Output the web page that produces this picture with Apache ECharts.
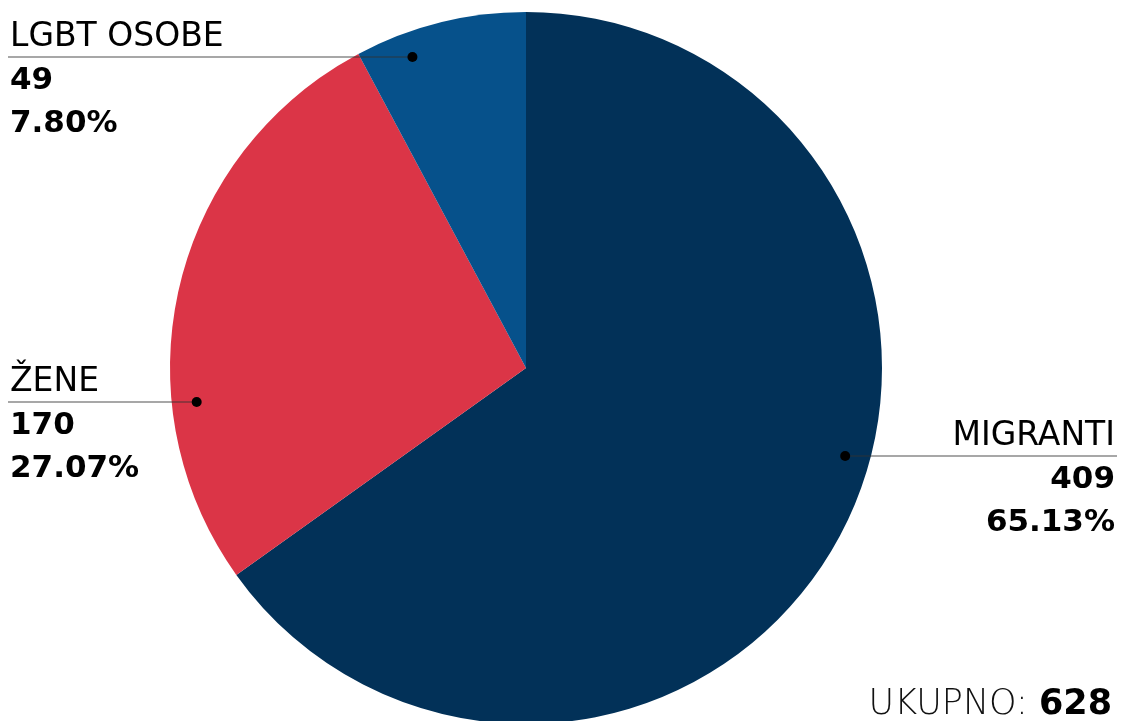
<!DOCTYPE html>
<html>
<head>
<meta charset="utf-8">
<script src="https://cdn.jsdelivr.net/npm/echarts@6/dist/echarts.min.js"></script>
<style>
html,body{margin:0;padding:0;background:#fff;}
#c{width:1121px;height:721px;}
</style>
</head>
<body>
<div id="c"></div>
<script>
const categories = ['MIGRANTI', 'ŽENE', 'LGBT OSOBE'];
const values = [409, 170, 49];
const colors = ['#023158', '#DB3547', '#06518B'];
const totalLabel = 'UKUPNO:';

const total = values.reduce((a, b) => a + b, 0);
const CX = 526, CY = 368, R = 356;
// label line heights and sides (layout only)
const lineY = [456, 402, 57];
const side = ['right', 'left', 'left'];
const DOT_R = 0.93 * R;

function dotPos(i) {
  const dy = lineY[i] - CY;
  const dx = Math.sqrt(Math.max(DOT_R * DOT_R - dy * dy, 0));
  const x = side[i] === 'right' ? CX + dx : CX - dx;
  return [x, lineY[i]];
}

const FONT = '"DejaVu Sans", sans-serif';
const chart = echarts.init(document.getElementById('c'), null, {renderer: 'canvas'});

const leaders = [];
categories.forEach((c, i) => {
  const p = dotPos(i);
  const end = side[i] === 'right' ? 1117 : 8;
  leaders.push({type: 'line', shape: {x1: p[0], y1: p[1], x2: end, y2: p[1]}, style: {stroke: '#333', lineWidth: 1.2, opacity: 0.85}, z: 100});
  leaders.push({type: 'circle', shape: {cx: p[0], cy: p[1], r: 5}, style: {fill: '#000'}, z: 101});
});

chart.setOption({
  animation: false,
  backgroundColor: '#fff',
  title: {
    text: '{a|' + totalLabel + ' }{b|' + total + '}',
    right: 4,
    bottom: -6,
    textStyle: {
      rich: {
        a: {fontFamily: FONT, fontSize: 35, fontWeight: 200, color: '#111'},
        b: {fontFamily: FONT, fontSize: 35, fontWeight: 'bold', color: '#000'}
      }
    }
  },
  graphic: leaders,
  series: [{
    type: 'pie',
    center: [CX, CY],
    radius: [0, R],
    startAngle: 90,
    clockwise: true,
    data: categories.map((c, i) => ({name: c, value: values[i], itemStyle: {color: colors[i]}})),
    label: {
      show: true,
      position: 'outside',
      overflow: 'none',
      formatter: p => '{n|' + p.name + '}\n{v|' + p.value + '}\n{v|' + (p.value / total * 100).toFixed(2) + '%}',
      rich: {
        n: {fontFamily: FONT, fontSize: 33, color: '#000', lineHeight: 43, fontWeight: 'normal'},
        v: {fontFamily: FONT, fontSize: 31, color: '#000', lineHeight: 43, fontWeight: 'bold'}
      }
    },
    labelLine: {show: false},
    labelLayout: function (params) {
      const i = params.dataIndex;
      const right = side[i] === 'right';
      return {
        x: right ? 1115 : 10,
        y: lineY[i] - 41,
        align: right ? 'right' : 'left',
        verticalAlign: 'top'
      };
    },
    emphasis: {disabled: true}
  }]
});
</script>
</body>
</html>
